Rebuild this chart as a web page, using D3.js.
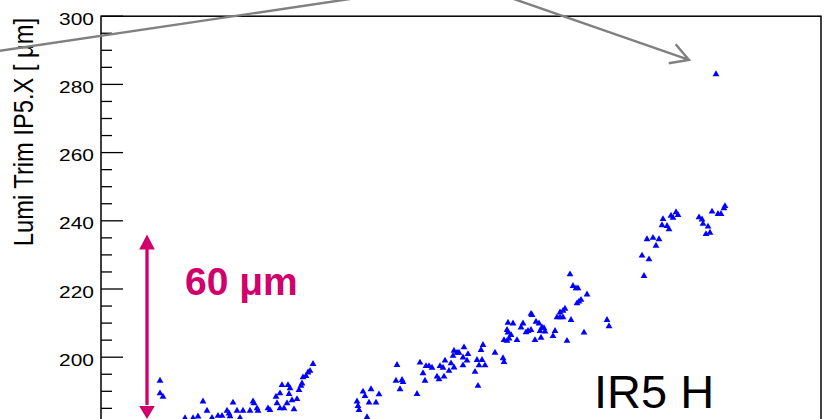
<!DOCTYPE html>
<html>
<head>
<meta charset="utf-8">
<script src="https://cdn.jsdelivr.net/npm/d3@7"></script>
<style>
html, body { margin: 0; padding: 0; background: #fff; }
svg { display: block; }
</style>
</head>
<body>
<svg id="chart"></svg>
<script>
// time since start of run [h] and horizontal lumi trim [um]
const hours = [
  5.9, 5.9, 6.2, 8.4, 9.2, 9.7, 10.2, 10.6, 11.1, 11.7, 12.1, 12.6, 12.8, 12.9, 13.2, 13.6, 13.9, 14.2, 14.9, 15.2,
  15.3, 15.6, 15.7, 16.7, 16.9, 17.5, 17.6, 17.9, 17.9, 18.1, 18.3, 18.6, 18.7, 18.8, 18.9, 19.1, 19.3, 19.6, 19.8, 20.0,
  20.1, 20.2, 20.5, 20.7, 20.9, 21.2,
  25.6, 25.7, 25.8, 26.2, 26.4, 26.6, 26.8, 27.0, 27.5, 27.8, 29.5, 29.6, 29.9, 30.1, 30.2, 31.6, 31.9, 32.2, 32.4, 32.5,
  32.8, 33.1, 33.6, 33.8, 33.9, 34.2, 34.3, 34.4, 34.8, 35.0, 35.2, 35.3, 35.3, 35.6, 35.8, 36.2, 36.2, 36.3, 36.6, 36.7,
  37.4, 37.6, 37.7, 37.8, 38.0, 38.1, 38.2, 38.4,
  39.4, 40.2, 40.3, 40.3, 40.6, 40.6, 40.7, 40.7, 40.8, 41.0, 41.2, 41.6, 42.0, 42.2, 42.5, 42.7, 43.0, 43.0, 43.1, 43.4,
  43.5, 43.8, 43.9, 44.0, 44.1, 44.3, 44.4, 45.2, 45.4, 45.6, 45.9, 45.9, 46.2, 46.2, 46.4, 46.6, 46.9, 47.0, 47.2, 47.5,
  47.6, 47.7, 47.8, 48.0, 48.3, 48.6, 50.6, 50.8,
  54.1, 54.3, 54.6, 54.8, 55.2, 55.5, 55.8, 56.1, 56.2, 56.6, 56.8, 57.0, 57.2, 57.5, 57.7,
  59.8, 60.1, 60.2, 60.5, 60.7, 60.9, 61.1, 61.5, 61.7, 62.0, 62.3, 62.4
];
const trimX = [
  193.1, 189.4, 188.4, 182.1, 182.1, 182.6, 187.0, 184.3, 182.2, 182.8, 182.8, 184.3, 183.5, 182.7, 186.7, 184.3, 182.2, 184.3, 184.3, 187.0,
  186.5, 185.0, 184.3, 185.0, 184.5, 188.4, 186.5, 189.4, 185.0, 191.8, 185.0, 186.5, 191.8, 189.2, 190.9, 187.4, 184.7, 187.7, 190.4, 191.6,
  192.3, 194.1, 194.5, 195.5, 196.0, 198.0,
  187.0, 185.7, 184.5, 189.9, 188.6, 182.4, 186.7, 190.6, 186.7, 189.1, 193.1, 197.7, 190.6, 193.3, 192.7, 189.2, 198.4, 195.3, 193.1, 197.4,
  197.4, 196.9, 194.3, 193.5, 197.4, 196.9, 194.3, 199.0, 196.0, 198.2, 200.4, 197.0, 201.9, 201.3, 201.3, 199.9, 197.6, 202.9, 199.0, 200.9,
  195.7, 199.2, 191.6, 197.6, 202.1, 199.2, 203.6, 197.6,
  201.3, 199.7, 198.6, 205.0, 204.8, 208.0, 207.2, 210.1, 205.5, 206.5, 209.9, 205.0, 208.7, 209.9, 207.3, 207.7, 208.0, 212.7, 212.4, 205.0,
  210.4, 209.9, 207.7, 205.7, 208.7, 208.5, 207.5, 206.2, 207.7, 211.7, 211.7, 213.1, 211.7, 213.6, 214.2, 204.8, 224.3, 210.9, 220.9, 220.2,
  215.8, 220.2, 216.3, 216.8, 207.2, 218.4, 210.9, 209.1,
  229.8, 223.8, 234.6, 228.7, 235.0, 232.7, 234.6, 238.7, 240.5, 238.5, 237.5, 241.5, 240.9, 242.5, 241.7,
  241.0, 240.4, 239.1, 236.1, 238.3, 236.5, 242.7, 283.0, 242.0, 242.0, 243.7, 244.3
];
const yTickLabels = [180, 200, 220, 240, 260, 280, 300];
const yTitle = "Lumi Trim IP5.X [ \u03bcm]";
const spanLabel = "60 \u03bcm";
const plotLabel = "IR5 H";

const width = 826;
const height = 419;
const frame = {left: 101, right: 821, top: 16.2, bottom: 459.5};
const pink = "#d1006c";
const grey = "#808080";

const x = d3.scaleLinear().domain([0, 72]).range([frame.left, frame.right]);
const y = d3.scaleLinear().domain([170, 300]).range([frame.bottom, frame.top]);

const svg = d3.select("#chart")
  .attr("width", width)
  .attr("height", height)
  .style("overflow", "hidden");

// frame
svg.append("rect")
  .attr("x", frame.left)
  .attr("y", frame.top)
  .attr("width", frame.right - frame.left)
  .attr("height", frame.bottom - frame.top)
  .attr("fill", "none")
  .attr("stroke", "#000")
  .attr("stroke-width", 1.5);

// y ticks, ROOT style (inside the frame)
const minor = d3.range(170, 301, 5);
svg.append("g")
  .selectAll("line")
  .data(minor)
  .join("line")
  .attr("x1", frame.left)
  .attr("x2", d => frame.left + (d % 20 === 0 ? 22 : 11))
  .attr("y1", d => y(d))
  .attr("y2", d => y(d))
  .attr("stroke", "#000")
  .attr("stroke-width", 1.3);

svg.append("g")
  .selectAll("text")
  .data(yTickLabels)
  .join("text")
  .attr("transform", d => `translate(94, ${y(d) + 8.6}) scale(1.27, 1)`)
  .attr("text-anchor", "end")
  .attr("font-family", "Liberation Sans, Arial, sans-serif")
  .attr("font-size", 16.5)
  .attr("fill", "#000")
  .text(d => d);

svg.append("text")
  .attr("transform", "translate(33, 18) scale(1.17, 1) rotate(-90)")
  .attr("text-anchor", "end")
  .attr("font-family", "Liberation Sans, Arial, sans-serif")
  .attr("font-size", 23.7)
  .attr("fill", "#000")
  .text(yTitle);

// data points
const points = hours.map((h, i) => ({h, v: trimX[i]}));
const tri = d3.symbol().type(d3.symbolTriangle).size(20);
svg.append("g")
  .selectAll("path")
  .data(points)
  .join("path")
  .attr("d", tri)
  .attr("transform", d => `translate(${x(d.h)}, ${y(d.v)})`)
  .attr("fill", "#0000ff");

// grey pointer lines from the slide
svg.append("line")
  .attr("x1", -20).attr("y1", 53.7)
  .attr("x2", 360).attr("y2", -2.5)
  .attr("stroke", grey)
  .attr("stroke-width", 2.4);

const tip = [x(58.8), y(287.2)];
const start = [502.3, -5];
const ang = Math.atan2(start[1] - tip[1], start[0] - tip[0]);
const armLen = 20.6;
const arm = a => [tip[0] + armLen * Math.cos(ang + a), tip[1] + armLen * Math.sin(ang + a)];
svg.append("path")
  .attr("d", d3.line()([start, tip]) + "M" + arm(0.53) + "L" + tip + "L" + arm(-0.5))
  .attr("fill", "none")
  .attr("stroke", grey)
  .attr("stroke-width", 2.4)
  .attr("stroke-linejoin", "miter");

// 60 um span arrow
const ax = x(4.6);
const yTop = y(236.0);
const yBot = y(181.9);
const head = 15;
const half = 7.8;
svg.append("line")
  .attr("x1", ax).attr("y1", yTop + head - 1)
  .attr("x2", ax).attr("y2", yBot - head + 1)
  .attr("stroke", pink)
  .attr("stroke-width", 3.3);
svg.append("path")
  .attr("d", `M${ax},${yTop}L${ax + half},${yTop + head}L${ax - half},${yTop + head}Z` +
             `M${ax},${yBot}L${ax + half},${yBot - head + 2}L${ax - half},${yBot - head + 2}Z`)
  .attr("fill", pink);

svg.append("text")
  .attr("x", 185)
  .attr("y", 295)
  .attr("font-family", "Liberation Sans, Arial, sans-serif")
  .attr("font-weight", "bold")
  .attr("font-size", 39)
  .attr("fill", pink)
  .text(spanLabel);

svg.append("text")
  .attr("x", 594)
  .attr("y", 408)
  .attr("font-family", "Liberation Sans, Arial, sans-serif")
  .attr("font-size", 47)
  .attr("fill", "#000")
  .text(plotLabel);
</script>
</body>
</html>
